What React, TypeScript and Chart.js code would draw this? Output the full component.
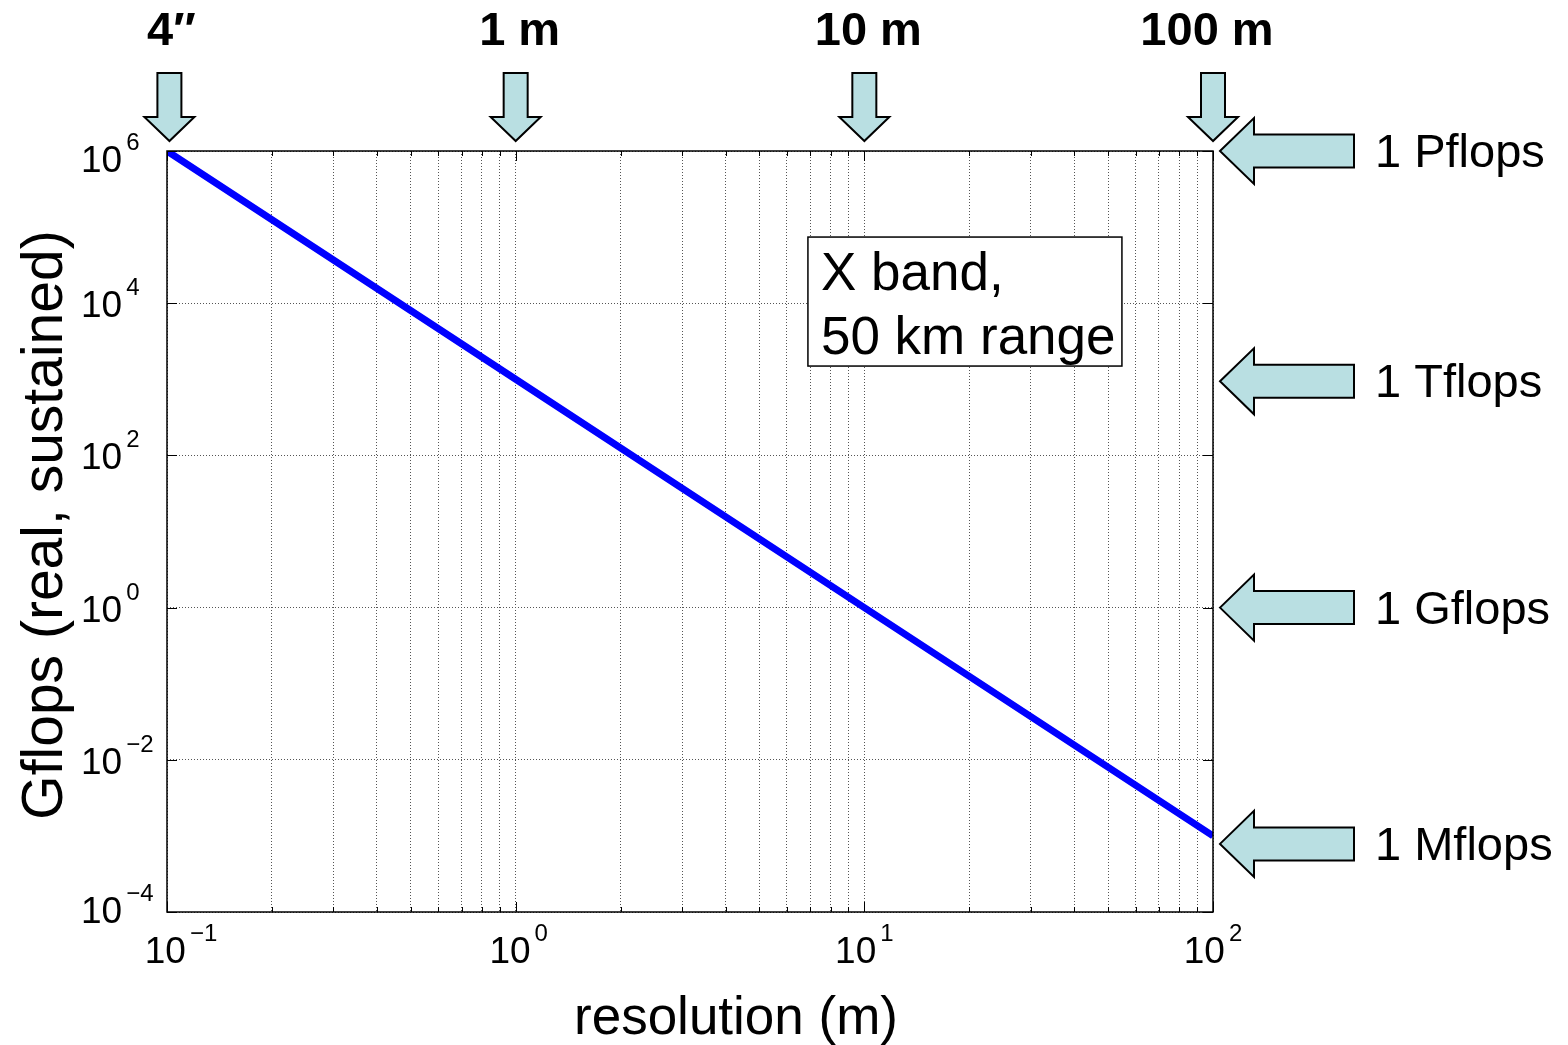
import React, { useEffect, useRef } from "react";
import { Chart, registerables } from "chart.js";

Chart.register(...registerables);

// ---- data ----
const resolutionM = [0.1, 1, 10, 100];
const gflops = [1e6, 1e3, 1, 1e-3];

const xTickExponents = [-1, 0, 1, 2];
const yTickExponents = [-4, -2, 0, 2, 4, 6];

const topMarkValues = [0.1016, 1, 10, 100];
const topMarkLabels = ["4\u2033", "1 m", "10 m", "100 m"];

const flopsMarkValues = [1e6, 1e3, 1, 1e-3];
const flopsMarkLabels = ["1 Pflops", "1 Tflops", "1 Gflops", "1 Mflops"];

const noteLines = ["X band,", "50 km range"];
const xTitle = "resolution (m)";
const yTitle = "Gflops (real, sustained)";

// ---- style ----
const FONT = "'Liberation Sans', Arial, Helvetica, sans-serif";
const ARROW_FILL = "#b9dfe2";
const flopsArrowNudge = [0, 2, 0, 8];
const topLabelNudge = [2, 4, 4, -6];
const xLabelNudge = [14, 3, 0, 0];
const BASE_FONT = 37;
const SUP_FONT = 24;

function xMinorTicks(): number[] {
  const out: number[] = [];
  for (let e = -1; e <= 1; e++) {
    for (let s = 1; s <= 9; s++) out.push(s * Math.pow(10, e));
  }
  out.push(100);
  return out;
}

const overlay = {
  id: "overlay",
  afterDatasetsDraw(chart: any) {
    const ctx = chart.ctx as CanvasRenderingContext2D;
    const xs = chart.scales.x;
    const ys = chart.scales.y;
    const a = chart.chartArea;
    ctx.save();

    // inner tick marks
    ctx.strokeStyle = "#000";
    ctx.lineWidth = 1;
    ctx.beginPath();
    xMinorTicks().forEach((v) => {
      const px = Math.round(xs.getPixelForValue(v)) + 0.5;
      const major = Math.abs(Math.log10(v) - Math.round(Math.log10(v))) < 1e-9;
      const len = major ? 10 : 5;
      ctx.moveTo(px, a.bottom);
      ctx.lineTo(px, a.bottom - len);
      ctx.moveTo(px, a.top);
      ctx.lineTo(px, a.top + len);
    });
    yTickExponents.forEach((e) => {
      const py = Math.round(ys.getPixelForValue(Math.pow(10, e))) + 0.5;
      ctx.moveTo(a.left, py);
      ctx.lineTo(a.left + 10, py);
      ctx.moveTo(a.right, py);
      ctx.lineTo(a.right - 10, py);
    });
    ctx.stroke();

    // frame
    ctx.lineWidth = 1.5;
    ctx.strokeRect(a.left, a.top, a.right - a.left, a.bottom - a.top);

    // y tick labels
    ctx.fillStyle = "#000";
    ctx.textBaseline = "alphabetic";
    ctx.textAlign = "left";
    yTickExponents.forEach((e) => {
      const py = ys.getPixelForValue(Math.pow(10, e));
      const exp = e < 0 ? "\u2212" + Math.abs(e) : String(e);
      const base = e === 6 ? py + 21 : e === -4 ? py + 11 : py + 14;
      ctx.font = `${BASE_FONT}px ${FONT}`;
      const bw = ctx.measureText("10").width;
      const lx = a.left - 86;
      ctx.fillText("10", lx, base);
      ctx.font = `${SUP_FONT}px ${FONT}`;
      ctx.fillText(exp, lx + bw + 4, base - 22);
    });

    // x tick labels
    xTickExponents.forEach((e, i) => {
      const px = xs.getPixelForValue(Math.pow(10, e));
      const exp = e < 0 ? "\u2212" + Math.abs(e) : String(e);
      ctx.font = `${BASE_FONT}px ${FONT}`;
      const bw = ctx.measureText("10").width;
      ctx.font = `${SUP_FONT}px ${FONT}`;
      const ew = ctx.measureText(exp).width;
      const total = bw + 4 + ew;
      const left = px + xLabelNudge[i] - total / 2;
      ctx.textAlign = "left";
      ctx.font = `${BASE_FONT}px ${FONT}`;
      ctx.fillText("10", left, a.bottom + 51);
      ctx.font = `${SUP_FONT}px ${FONT}`;
      ctx.fillText(exp, left + bw + 4, a.bottom + 29);
    });

    // axis titles
    ctx.font = `53px ${FONT}`;
    ctx.textAlign = "center";
    ctx.fillText(xTitle, 736, a.bottom + 122);
    ctx.save();
    ctx.font = `57px ${FONT}`;
    ctx.translate(62, 525);
    ctx.rotate(-Math.PI / 2);
    ctx.fillText(yTitle, 0, 0);
    ctx.restore();

    // top arrows (pointing down)
    ctx.lineWidth = 2;
    ctx.lineJoin = "miter";
    topMarkValues.forEach((v, i) => {
      const tx = xs.getPixelForValue(v);
      const tipY = a.top - 10;
      ctx.beginPath();
      ctx.moveTo(tx, tipY);
      ctx.lineTo(tx - 25, tipY - 24);
      ctx.lineTo(tx - 12, tipY - 24);
      ctx.lineTo(tx - 12, tipY - 68);
      ctx.lineTo(tx + 12, tipY - 68);
      ctx.lineTo(tx + 12, tipY - 24);
      ctx.lineTo(tx + 25, tipY - 24);
      ctx.closePath();
      ctx.fillStyle = ARROW_FILL;
      ctx.fill();
      ctx.strokeStyle = "#000";
      ctx.stroke();
      ctx.fillStyle = "#000";
      ctx.font = `bold 47px ${FONT}`;
      ctx.textAlign = "center";
      ctx.fillText(topMarkLabels[i], tx + topLabelNudge[i], 45);
    });

    // right arrows (pointing left)
    flopsMarkValues.forEach((v, i) => {
      const ty = ys.getPixelForValue(v) + flopsArrowNudge[i];
      const tx = a.right + 7;
      ctx.beginPath();
      ctx.moveTo(tx, ty);
      ctx.lineTo(tx + 34, ty - 33);
      ctx.lineTo(tx + 34, ty - 16.5);
      ctx.lineTo(tx + 134, ty - 16.5);
      ctx.lineTo(tx + 134, ty + 16.5);
      ctx.lineTo(tx + 34, ty + 16.5);
      ctx.lineTo(tx + 34, ty + 33);
      ctx.closePath();
      ctx.fillStyle = ARROW_FILL;
      ctx.fill();
      ctx.strokeStyle = "#000";
      ctx.stroke();
      ctx.fillStyle = "#000";
      ctx.font = `47px ${FONT}`;
      ctx.textAlign = "left";
      ctx.fillText(flopsMarkLabels[i], tx + 155, ty + 16);
    });

    // note box
    const bx = xs.getPixelForValue(6.89);
    const by = ys.getPixelForValue(7.4e4);
    const bw2 = 314;
    const bh = 129;
    ctx.fillStyle = "#fff";
    ctx.fillRect(bx, by, bw2, bh);
    ctx.lineWidth = 1.5;
    ctx.strokeStyle = "#000";
    ctx.strokeRect(bx, by, bw2, bh);
    ctx.fillStyle = "#000";
    ctx.font = `53px ${FONT}`;
    ctx.textAlign = "left";
    ctx.fillText(noteLines[0], bx + 13, by + 53);
    ctx.fillText(noteLines[1], bx + 13, by + 117);

    ctx.restore();
  },
};

export default function App() {
  const ref = useRef<HTMLCanvasElement | null>(null);
  useEffect(() => {
    if (!ref.current) return;
    const chart = new Chart(ref.current, {
      type: "line",
      data: {
        datasets: [
          {
            data: resolutionM.map((x, i) => ({ x, y: gflops[i] })),
            borderColor: "#0000ff",
            borderWidth: 7,
            pointRadius: 0,
            fill: false,
            tension: 0,
            borderCapStyle: "butt",
          },
        ],
      },
      options: {
        animation: false,
        responsive: false,
        devicePixelRatio: 1,
        layout: { padding: { left: 167, right: 355, top: 151, bottom: 133 } },
        plugins: { legend: { display: false }, tooltip: { enabled: false } },
        scales: {
          x: {
            type: "logarithmic",
            min: 0.1,
            max: 100,
            afterBuildTicks: (s: any) => {
              s.ticks = xMinorTicks().map((v) => ({ value: v }));
            },
            ticks: { display: false },
            border: { display: false, dash: [1, 2] },
            grid: { drawTicks: false, color: "#555", lineWidth: 1 },
          },
          y: {
            type: "logarithmic",
            min: 1e-4,
            max: 1e6,
            afterBuildTicks: (s: any) => {
              s.ticks = yTickExponents.map((e) => ({ value: Math.pow(10, e) }));
            },
            ticks: { display: false },
            border: { display: false, dash: [1, 2] },
            grid: { drawTicks: false, color: "#555", lineWidth: 1 },
          },
        },
      },
      plugins: [overlay],
    } as any);
    return () => chart.destroy();
  }, []);
  return (
    <div style={{ position: "absolute", left: 0, top: 0, width: 1568, height: 1045, background: "#fff" }}>
      <canvas ref={ref} width={1568} height={1045} style={{ width: 1568, height: 1045, display: "block" }} />
    </div>
  );
}
